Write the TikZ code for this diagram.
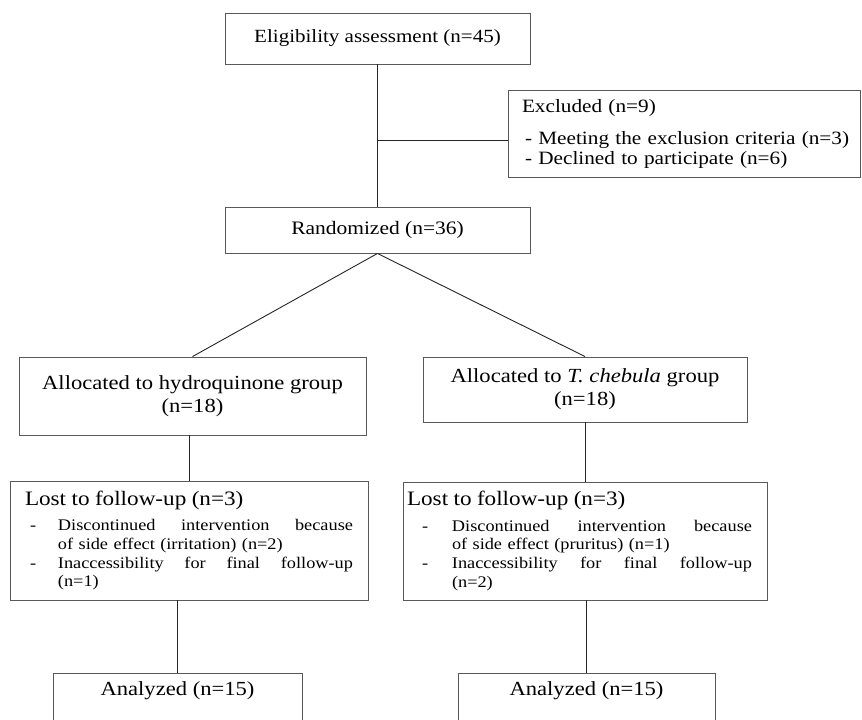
\documentclass[tikz,border=0pt]{standalone}
\usepackage{fontspec}
\setmainfont{Liberation Serif}[FakeStretch=1.13]
\begin{document}
\begin{tikzpicture}[x=1pt,y=-1pt,
  box/.style={draw=black!65, line width=0.9pt, rectangle, inner sep=0pt, align=center},
  conn/.style={draw=black!85, line width=0.9pt}]
\useasboundingbox (0,0) rectangle (862,720);
\clip (0,0) rectangle (862,720);
\fill[white] (0,0) rectangle (862,720);

\node[box, minimum width=305pt, minimum height=51pt, font=\fontsize{18.6}{21}\selectfont] (elig) at (377.5,38.5) {Eligibility assessment (n=45)};

\node[box, minimum width=352pt, minimum height=87pt, text width=340pt, inner xsep=6pt, align=left, font=\fontsize{18.8}{20}\selectfont] (excl) at (684,133.5)
 {\mbox{\hspace*{8pt}Excluded (n=9)}\\[12pt]\mbox{\hspace*{11pt}- Meeting the exclusion criteria (n=3)}\\\mbox{\hspace*{11pt}- Declined to participate (n=6)}};

\node[box, minimum width=305pt, minimum height=46pt, font=\fontsize{19}{21}\selectfont] (rand) at (377.5,230) {Randomized (n=36)};

\node[box, minimum width=347pt, minimum height=78pt, font=\fontsize{20}{23}\selectfont] (allocL) at (192.5,396) {Allocated to hydroquinone group\\(n=18)};
\node[box, minimum width=324pt, minimum height=65pt, font=\fontsize{20}{23}\selectfont] (allocR) at (585,389.5) {Allocated to \textit{T. chebula} group\\(n=18)};

\node[box, minimum width=358pt, minimum height=119pt, text width=340pt, inner xsep=9pt, align=left, font=\fontsize{16.2}{18.7}\selectfont] (lostL) at (189,540.5)
 {\mbox{\fontsize{20.5}{22}\selectfont\hspace*{6pt}Lost to follow-up (n=3)}\\[7pt]
  \mbox{\hspace*{11pt}\makebox[28pt][l]{-}\makebox[295pt][l]{Discontinued\hfill intervention\hfill because}}\\
  \mbox{\hspace*{39pt}of side effect (irritation) (n=2)}\\
  \mbox{\hspace*{11pt}\makebox[28pt][l]{-}\makebox[295pt][l]{Inaccessibility\hfill for\hfill final\hfill follow-up}}\\
  \mbox{\hspace*{39pt}(n=1)}};

\node[box, minimum width=364pt, minimum height=118pt, text width=356pt, inner xsep=4pt, align=left, font=\fontsize{16.2}{18.7}\selectfont] (lostR) at (585,541)
 {\mbox{\fontsize{20.5}{22}\selectfont Lost to follow-up (n=3)}\\[7pt]
  \mbox{\hspace*{15pt}\makebox[30pt][l]{-}\makebox[300pt][l]{Discontinued\hfill intervention\hfill because}}\\
  \mbox{\hspace*{45pt}of side effect (pruritus) (n=1)}\\
  \mbox{\hspace*{15pt}\makebox[30pt][l]{-}\makebox[300pt][l]{Inaccessibility\hfill for\hfill final\hfill follow-up}}\\
  \mbox{\hspace*{45pt}(n=2)}};

\node[box, anchor=north, minimum width=249pt, text height=14pt, text depth=60pt, inner ysep=8pt, font=\fontsize{20}{22}\selectfont] (anL) at (177.5,673) {Analyzed (n=15)};
\node[box, anchor=north, minimum width=257pt, text height=14pt, text depth=60pt, inner ysep=8pt, font=\fontsize{20}{22}\selectfont] (anR) at (586.5,673) {Analyzed (n=15)};

\draw[conn] (elig.south) -- (rand.north);
\coordinate (j) at (377.5,140);
\draw[conn] (j) -- (j -| excl.west);
\draw[conn] (rand.south) -- (allocL.north);
\draw[conn] (rand.south) -- (allocR.north);
\draw[conn] (lostL.north) -- (lostL.north |- allocL.south);
\draw[conn] (lostR.north) -- (lostR.north |- allocR.south);
\draw[conn] (anL.north) -- (anL.north |- lostL.south);
\draw[conn] (anR.north) -- (anR.north |- lostR.south);
\end{tikzpicture}
\end{document}
